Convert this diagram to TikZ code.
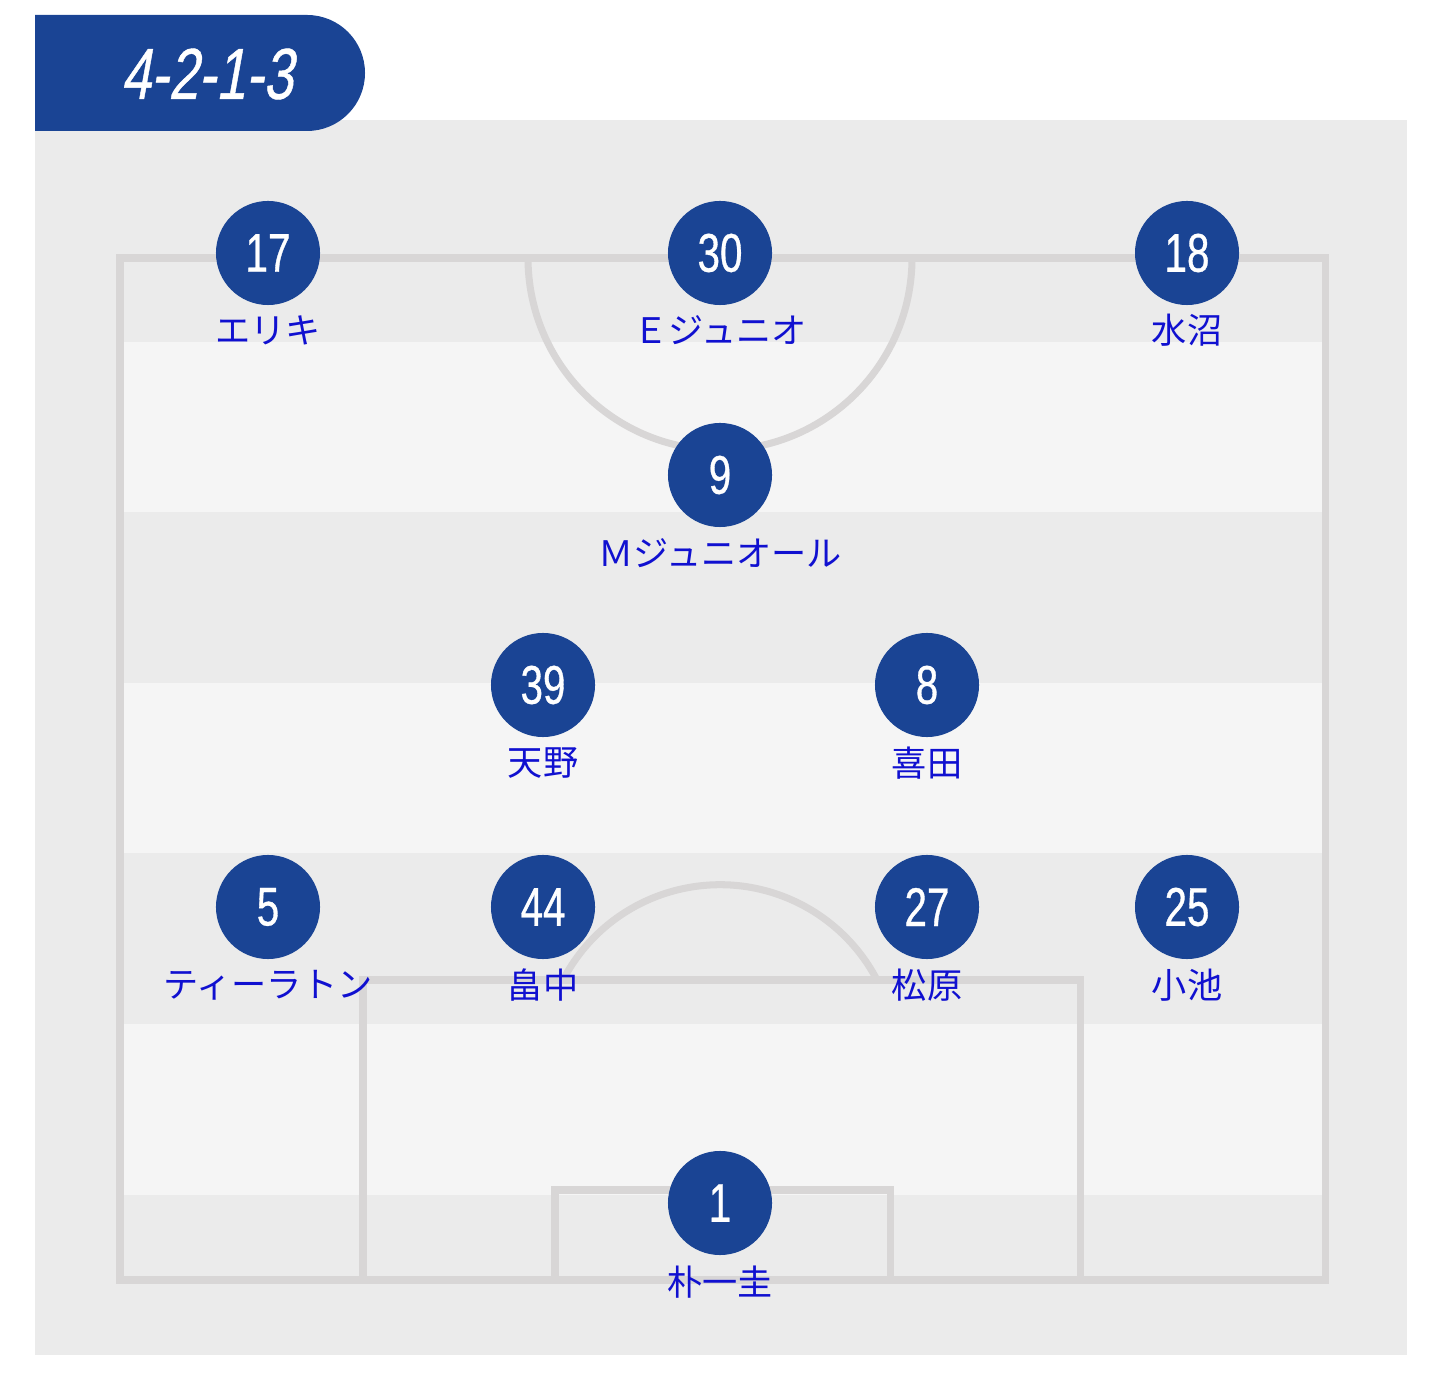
\documentclass[tikz,border=0pt]{standalone}
\usepackage{fontspec}
\setmainfont{Liberation Sans}
\newfontfamily\jpfont{Noto Sans CJK JP}
\newfontfamily\numfont[FakeStretch=0.74,FakeBold=0.6]{Liberation Sans}
\newfontfamily\headfont[FakeStretch=0.74,FakeSlant=0.18,FakeBold=0.6]{Liberation Sans}

\definecolor{teamblue}{HTML}{1A4494}
\definecolor{namblue}{HTML}{1010D0}
\definecolor{bggrey}{HTML}{EBEBEB}
\definecolor{stripe}{HTML}{F5F5F5}
\definecolor{lineg}{HTML}{D8D6D6}

\tikzset{
  player/.style={circle, fill=teamblue, minimum size=1.04cm, inner sep=0pt,
    text=white, font=\numfont\fontsize{15.5}{16}\selectfont},
  pname/.style={text=namblue, inner sep=0pt, font=\jpfont\fontsize{10}{11}\selectfont},
  pitchline/.style={draw=lineg, line width=2pt}
}

\begin{document}
\begin{tikzpicture}[x=0.01cm, y=-0.01cm]
		\useasboundingbox (0,0) rectangle (1440,1377);
		% background and stripes
		\fill[bggrey] (35,120) rectangle (1407,1355);
		\fill[stripe] (120,342) rectangle (1325,512);
		\fill[stripe] (120,683) rectangle (1325,853);
		\fill[stripe] (120,1024) rectangle (1325,1195);
		% pitch lines
		\draw[pitchline] (120,258) rectangle (1325,1280);
		\draw[pitchline] (528,258) arc[start angle=180, end angle=0, radius=192];
		\draw[pitchline] (363,1280) -- (363,980) -- (1080,980) -- (1080,1280);
		\draw[pitchline] (555,1280) -- (555,1190) -- (890,1190) -- (890,1280);
		\draw[pitchline] (563,980) arc[start angle=207.5, end angle=332.5, radius=177];
		% formation tab
		\fill[teamblue] (35,15) -- (307,15) arc[start angle=-90, end angle=90, radius=58] -- (35,131) -- cycle;
		\node[text=white, font=\headfont\fontsize{20.5}{22}\selectfont] (formation) at (207,74) {4-2-1-3};
		% players
		\node[player] (p17) at (268,253) {17};
		\node[pname] (n17) at (268,330) {エリキ};
		\node[player] (p30) at (720,253) {30};
		\node[pname] (n30) at (720,330) {Ｅジュニオ};
		\node[player] (p18) at (1187,253) {18};
		\node[pname] (n18) at (1187,330) {水沼};
		\node[player] (p9) at (720,475) {9};
		\node[pname] (n9) at (720,553) {Ｍジュニオール};
		\node[player] (p39) at (543,685) {39};
		\node[pname] (n39) at (543,763) {天野};
		\node[player] (p8) at (927,685) {8};
		\node[pname] (n8) at (927,763) {喜田};
		\node[player] (p5) at (268,907) {5};
		\node[pname] (n5) at (268,985) {ティーラトン};
		\node[player] (p44) at (543,907) {44};
		\node[pname] (n44) at (543,985) {畠中};
		\node[player] (p27) at (927,907) {27};
		\node[pname] (n27) at (927,985) {松原};
		\node[player] (p25) at (1187,907) {25};
		\node[pname] (n25) at (1187,985) {小池};
		\node[player] (p1) at (720,1203) {1};
		\node[pname] (n1) at (720,1282) {朴一圭};
\end{tikzpicture}
\end{document}
